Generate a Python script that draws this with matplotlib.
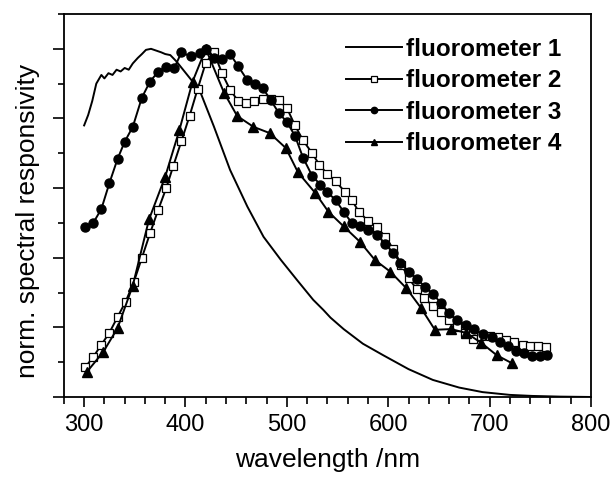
import numpy as np
import matplotlib
matplotlib.use('Agg')
import matplotlib.pyplot as plt
from matplotlib.ticker import MultipleLocator, NullFormatter

# fluorometer 1 (plain line)
wl1 = [300, 304, 308, 312, 317, 320, 324, 328, 332, 336, 340, 344, 348, 353, 357, 361, 366, 371,
       376, 380, 385, 391, 399, 407, 415, 428, 444, 461, 477, 494, 510, 526, 536, 543, 556, 575,
       595, 620, 644, 670, 693, 720, 742, 770, 800]
resp1 = [0.78, 0.81, 0.85, 0.90, 0.925, 0.915, 0.93, 0.925, 0.94, 0.935, 0.945, 0.94, 0.958, 0.974,
         0.985, 0.997, 1.0, 0.995, 0.99, 0.985, 0.982, 0.964, 0.935, 0.906, 0.873, 0.777, 0.652,
         0.547, 0.46, 0.394, 0.336, 0.279, 0.25, 0.228, 0.195, 0.153, 0.12, 0.08, 0.049, 0.027,
         0.014, 0.006, 0.003, 0.001, 0.0]

# fluorometer 2 (open squares)
wl2 = [301, 309, 317, 325, 333, 341, 349, 357, 365, 373, 381, 388, 396, 404, 412, 420, 428, 436,
       444, 452, 460, 468, 476, 484, 492, 500, 508, 516, 525, 532, 540, 548, 557, 564, 571, 580,
       589, 597, 605, 613, 620, 628, 635, 644, 652, 660, 668, 676, 684, 692, 700, 708, 716, 724,
       733, 740, 748, 756]
resp2 = [0.085, 0.115, 0.15, 0.185, 0.23, 0.274, 0.33, 0.40, 0.47, 0.537, 0.60, 0.664, 0.735, 0.807,
         0.885, 0.96, 0.99, 0.93, 0.882, 0.85, 0.845, 0.85, 0.856, 0.857, 0.853, 0.83, 0.78, 0.737,
         0.70, 0.667, 0.64, 0.62, 0.59, 0.566, 0.532, 0.506, 0.488, 0.46, 0.425, 0.38, 0.342, 0.31,
         0.285, 0.262, 0.243, 0.221, 0.20, 0.185, 0.166, 0.175, 0.175, 0.172, 0.164, 0.158, 0.149,
         0.145, 0.145, 0.144]

# fluorometer 3 (filled circles)
wl3 = [301, 309, 317, 325, 333, 340, 348, 357, 365, 373, 381, 389, 396, 405, 414, 420, 428, 436,
       444, 452, 461, 469, 476, 484, 492, 500, 508, 516, 525, 533, 540, 548, 556, 564, 572, 580,
       589, 597, 605, 612, 620, 628, 636, 644, 652, 660, 668, 677, 685, 693, 702, 710, 718, 726,
       734, 742, 750, 757]
resp3 = [0.489, 0.50, 0.54, 0.615, 0.684, 0.733, 0.776, 0.86, 0.906, 0.934, 0.949, 0.945, 0.99,
         0.978, 0.988, 1.0, 0.975, 0.97, 0.985, 0.95, 0.91, 0.90, 0.888, 0.853, 0.816, 0.79, 0.75,
         0.687, 0.635, 0.61, 0.588, 0.566, 0.532, 0.50, 0.49, 0.48, 0.466, 0.44, 0.414, 0.385, 0.36,
         0.34, 0.317, 0.296, 0.27, 0.24, 0.22, 0.207, 0.195, 0.18, 0.173, 0.159, 0.147, 0.133, 0.126,
         0.118, 0.119, 0.12]

# fluorometer 4 (filled triangles)
wl4 = [303, 319, 333, 348, 364, 380, 394, 407, 420, 438, 451, 467, 483, 499, 511, 528, 541, 556,
       572, 587, 602, 618, 632, 646, 662, 677, 692, 707, 722]
resp4 = [0.073, 0.13, 0.198, 0.32, 0.51, 0.633, 0.767, 0.906, 1.0, 0.874, 0.807, 0.776, 0.758,
         0.715, 0.645, 0.586, 0.532, 0.49, 0.446, 0.393, 0.36, 0.312, 0.257, 0.193, 0.195, 0.184,
         0.155, 0.12, 0.097]

plt.rcParams['font.family'] = ['Liberation Sans', 'DejaVu Sans']

fig = plt.figure(figsize=(6.14, 4.78), dpi=100)
ax = fig.add_axes([0.104, 0.1695, 0.8585, 0.8012])

lw = 1.4
ax.plot(wl1, resp1, color='black', lw=lw, label='fluorometer 1')
ax.plot(wl2, resp2, color='black', lw=lw, marker='s', ms=6, mfc='white', mec='black', mew=0.9,
        label='fluorometer 2')
ax.plot(wl3, resp3, color='black', lw=lw, marker='o', ms=6.5, label='fluorometer 3')
ax.plot(wl4, resp4, color='black', lw=lw, marker='^', ms=7, label='fluorometer 4')

ax.set_xlim(280, 800)
ax.set_ylim(0, 1.1)
ax.xaxis.set_major_locator(MultipleLocator(100))
ax.xaxis.set_minor_locator(MultipleLocator(20))
ax.yaxis.set_major_locator(MultipleLocator(0.2))
ax.yaxis.set_minor_locator(MultipleLocator(0.1))
ax.yaxis.set_major_formatter(NullFormatter())
ax.tick_params(axis='both', which='both', direction='out', width=1.2, labelsize=17)
ax.tick_params(axis='x', which='major', length=7, pad=5)
ax.tick_params(axis='x', which='minor', length=5)
ax.tick_params(axis='y', which='major', length=8)
ax.tick_params(axis='y', which='minor', length=4)
ax.tick_params(top=False, right=False)
for s in ax.spines.values():
    s.set_linewidth(1.3)

ax.set_xlabel('wavelength /nm', fontsize=19, labelpad=9)
ax.set_ylabel('norm. spectral responsivity', fontsize=19)
ax.yaxis.set_label_coords(-0.046, 0.46)

leg = ax.legend(loc='upper right', frameon=False, prop={'weight': 'bold', 'size': 17.5},
                handlelength=2.3, handletextpad=0.15, labelspacing=0.35,
                bbox_to_anchor=(0.985, 0.995), markerscale=0.7)

fig.savefig('out.png', dpi=100)
